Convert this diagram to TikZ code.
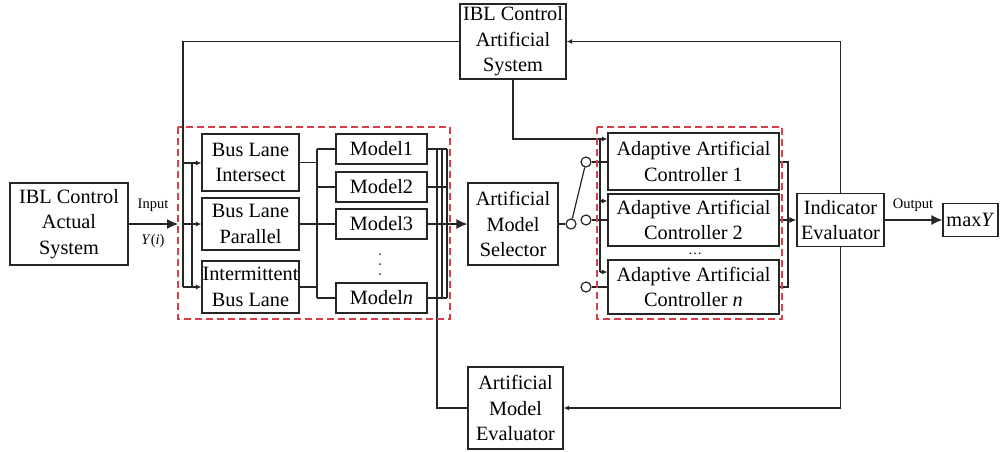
\documentclass[tikz,border=0pt]{standalone}
\usepackage{fontspec}
\setmainfont{Liberation Serif}
\usetikzlibrary{arrows.meta}
\begin{document}
\begin{tikzpicture}[x=1pt,y=-1pt,
 box/.style={draw=black!85,line width=1.2pt,inner sep=0pt,align=center,font=\fontsize{20.3}{25.5}\selectfont},
 ln/.style={draw=black!85,line width=1.2pt},
 big/.style={ln,-{Latex[length=11pt,width=10pt]}},
 med/.style={ln,-{Latex[length=7pt,width=6pt]}},
 sm/.style={ln,-{Latex[length=5.5pt,width=5pt]}},
 grp/.style={draw={rgb,255:red,214;green,64;blue,74},line width=1.3pt,dash pattern=on 7pt off 4pt},
 sw/.style={draw=black!85,line width=1.2pt,circle,minimum size=10pt,inner sep=0pt,fill=white},
 dot/.style={fill=black!80,circle,inner sep=0pt,minimum size=2pt},
 lbl/.style={font=\fontsize{14.5}{16}\selectfont,inner sep=0pt}]
\useasboundingbox (0,0) rectangle (1000,451);

% boxes
\node[box,minimum width=118pt,minimum height=82pt] (act) at (69,224) {IBL Control\\Actual\\System};
\node[box,minimum width=97pt,minimum height=57pt] (bli) at (250.5,162.5) {Bus Lane\\Intersect};
\node[box,minimum width=97pt,minimum height=52pt] (blp) at (250.5,224) {Bus Lane\\Parallel};
\node[box,minimum width=97pt,minimum height=52pt] (ibl) at (250.5,287) {Intermittent\\Bus Lane};
\node[box,minimum width=91pt,minimum height=30pt] (m1) at (381.5,149) {Model1};
\node[box,minimum width=91pt,minimum height=30pt] (m2) at (381.5,187) {Model2};
\node[box,minimum width=91pt,minimum height=30pt] (m3) at (381.5,224) {Model3};
\node[box,minimum width=91pt,minimum height=30pt] (mn) at (381.5,298) {Model\textit{n}};
\node[box,minimum width=90pt,minimum height=82pt] (sel) at (513,224) {Artificial\\Model\\Selector};
\node[box,minimum width=106pt,minimum height=75pt] (art) at (513,41.5) {IBL Control\\Artificial\\System};
\node[box,minimum width=171pt,minimum height=57pt] (c1) at (693.5,161.5) {Adaptive Artificial\\Controller 1};
\node[box,minimum width=171pt,minimum height=52pt] (c2) at (693.5,220) {Adaptive Artificial\\Controller 2};
\node[box,minimum width=171pt,minimum height=54pt] (cn) at (693.5,287) {Adaptive Artificial\\Controller \textit{n}};
\node[box,minimum width=87pt,minimum height=53pt] (ind) at (840.5,220) {Indicator\\Evaluator};
\node[box,minimum width=55pt,minimum height=33pt] (maxy) at (970.5,220) {max\textit{Y}};
\node[box,minimum width=95pt,minimum height=82pt] (ame) at (515.5,408) {Artificial\\Model\\Evaluator};

% vertical dots between Model3 and Modeln
\node[dot] (d1) at (380,254) {};
\node[dot] (d2) at (380,264) {};
\node[dot] (d3) at (380,274) {};
\node[font=\fontsize{14}{14}\selectfont] (hd) at (695,254) {\dots};

% input
\coordinate (inT) at (178,224);
\draw[big] (act.east) -- (inT);
\node[lbl] (inlbl) at (153,205) {Input};
\node[lbl] (yi) at (153,241) {\textit{Y}(\textit{i})};

% feedback into bus lanes
\coordinate (j1) at (183,163);
\coordinate (j2) at (183,224);
\coordinate (j3) at (183,287);
\coordinate (k1) at (192,163);
\coordinate (k3) at (192,287);
\draw[ln] (art.west) -| (j3);
\draw[ln] (k1) -- (k3);
\draw[sm] (j1) -- (j1 -| bli.west);
\draw[sm] (j2) -- (j2 -| blp.west);
\draw[sm] (j3) -- (j3 -| ibl.west);

% bus lanes to models
\coordinate (b1) at (317,149);
\coordinate (b4) at (317,298);
\draw[ln] (b1) -- (b4);
\draw[ln] (bli.east) -- (bli.east -| b1);
\draw[ln] (ibl.east) -- (ibl.east -| b1);
\draw[ln] (b1) -- (m1.west);
\draw[ln] (m2.west -| b1) -- (m2.west);
\draw[ln] (b4) -- (mn.west);
\draw[ln] (blp.east) -- (m3.west);

% models to selector / evaluator
\coordinate (v1t) at (437,149);
\coordinate (v1b) at (437,408);
\coordinate (v2t) at (442,149);
\coordinate (v2b) at (442,298);
\coordinate (v3t) at (447,149);
\coordinate (v3b) at (447,298);
\draw[ln] (v1t) -- (v1b) -- (ame.west);
\draw[ln] (v2t) -- (v2b);
\draw[ln] (v3t) -- (v3b);
\draw[ln] (m1.east) -- (v3t);
\draw[ln] (m2.east) -- (m2.east -| v3t);
\draw[ln] (mn.east) -- (v3b);
\draw[big] (m3.east) -- (sel.west);

% switch
\node[sw] (s0) at (571,224) {};
\node[sw] (s1) at (586,162) {};
\node[sw] (s2) at (586,220) {};
\node[sw] (s3) at (586,287) {};
\draw[ln] (sel.east) -- (s0);
\draw[ln] (s0) -- (s1);
\draw[ln] (s1) -- (s1 -| c1.west);
\draw[ln] (s2) -- (s2 -| c2.west);
\draw[ln] (s3) -- (s3 -| cn.west);

% artificial system to controllers
\coordinate (t2) at (600,139);
\coordinate (t3) at (600,272);
\coordinate (t4) at (600,201);
\draw[sm] (art.south) |- (c1.west |- t2);
\draw[ln] (t2) -- (t3);
\draw[sm] (t4) -- (t4 -| c2.west);
\draw[sm] (t3) -- (t3 -| cn.west);

% controllers to indicator
\coordinate (u1) at (788,162);
\coordinate (u2) at (788,287);
\draw[ln] (c1.east |- u1) -- (u1) -- (u2) -- (cn.east |- u2);
\draw[med] (c2.east) -- (ind.west);

% output
\draw[big] (ind.east) -- (maxy.west);
\node[lbl] (outlbl) at (913,205) {Output};

% feedback loops
\draw[sm] (ind.north) |- (art.east);
\draw[sm] (ind.south) |- (ame.east);

% groups
\draw[grp] (178,127) rectangle (450,319);
\draw[grp] (597,127) rectangle (782,319);
\end{tikzpicture}
\end{document}
